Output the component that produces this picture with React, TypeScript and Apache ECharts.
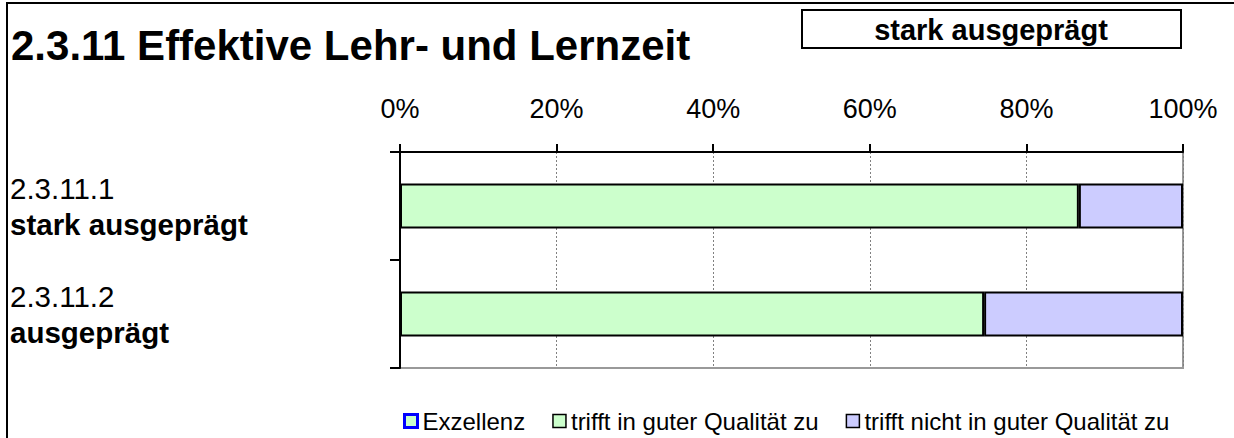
import React, { useEffect, useRef } from "react";
import * as echarts from "echarts";

const title = "2.3.11 Effektive Lehr- und Lernzeit";
const boxLabel = "stark ausgeprägt";
const categoryCodes = ["2.3.11.1", "2.3.11.2"];
const categoryNames = ["stark ausgeprägt", "ausgeprägt"];
const seriesNames = ["Exzellenz", "trifft in guter Qualität zu", "trifft nicht in guter Qualität zu"];
const exzellenz = [0, 0];
const trifftGut = [86.7, 74.6];
const trifftNicht = [13.3, 25.4];
const tickValues = [0, 20, 40, 60, 80, 100];

const FONT = "'Liberation Sans', Arial, sans-serif";

export default function App() {
  const ref = useRef<HTMLDivElement>(null);
  useEffect(() => {
    if (!ref.current) return;
    const chart = echarts.init(ref.current, null, { renderer: "svg" });
    const categories = categoryCodes.map((c, i) => `${c}\n${categoryNames[i]}`);
    chart.setOption({
      animation: false,
      backgroundColor: "#ffffff",
      textStyle: { fontFamily: FONT },
      graphic: [
        {
          type: "rect",
          shape: { x: 7, y: 3, width: 1300, height: 500 },
          style: { fill: "none", stroke: "#000", lineWidth: 2 },
          silent: true,
        },
        {
          type: "text",
          x: 11,
          y: 45,
          style: {
            text: title,
            font: `bold 42px ${FONT}`,
            fill: "#000",
            textVerticalAlign: "middle",
          },
        },
        {
          type: "rect",
          shape: { x: 802, y: 10, width: 379, height: 38 },
          style: { fill: "#fff", stroke: "#000", lineWidth: 2 },
        },
        {
          type: "text",
          x: 991,
          y: 30,
          style: {
            text: boxLabel,
            font: `bold 29px ${FONT}`,
            fill: "#000",
            textAlign: "center",
            textVerticalAlign: "middle",
          },
        },
      ],
      legend: {
        data: [
          { name: seriesNames[0], itemStyle: { color: "#CCFFCC", borderColor: "#0000FF", borderWidth: 3 } },
          { name: seriesNames[1], itemStyle: { borderWidth: 1.5 } },
          { name: seriesNames[2], itemStyle: { borderWidth: 1.5 } },
        ],
        left: 398,
        top: 404,
        icon: "rect",
        itemWidth: 13,
        itemHeight: 13,
        itemGap: 27,
        textStyle: { fontSize: 24, color: "#000", fontFamily: FONT },
      },
      grid: {
        left: 400,
        right: 51,
        top: 152,
        bottom: 70,
        show: true,
        borderColor: "#999",
        borderWidth: 2,
      },
      xAxis: {
        type: "value",
        position: "top",
        min: 0,
        max: 100,
        interval: 20,
        axisLine: { show: true, lineStyle: { color: "#000", width: 2 } },
        axisTick: { show: true, length: 8, lineStyle: { color: "#000", width: 2 } },
        axisLabel: {
          formatter: (v: number) => (tickValues.includes(v) ? `${v}%` : ""),
          fontSize: 27,
          color: "#000",
          margin: 30,
          fontFamily: FONT,
        },
        splitLine: { show: true, lineStyle: { color: "#808080", width: 1, type: [2, 2] } },
      },
      yAxis: {
        type: "category",
        inverse: true,
        data: categories,
        axisLine: { show: true, lineStyle: { color: "#000", width: 2 } },
        axisTick: { show: true, length: 10, lineStyle: { color: "#000", width: 2 } },
        axisLabel: {
          margin: 390,
          align: "left",
          fontFamily: FONT,
          formatter: (v: string) => {
            const [a, b] = v.split("\n");
            return `{a|${a}}\n{b|${b}}`;
          },
          rich: {
            a: { fontSize: 29.5, color: "#000", fontFamily: FONT, lineHeight: 36 },
            b: { fontSize: 29.5, fontWeight: "bold", color: "#000", fontFamily: FONT, lineHeight: 36 },
          },
        },
      },
      series: [
        {
          name: seriesNames[0],
          type: "bar",
          stack: "s",
          barWidth: 45,
          data: exzellenz,
          itemStyle: { color: "#CCFFCC", borderColor: "#0000FF", borderWidth: 0 },
        },
        {
          name: seriesNames[1],
          type: "bar",
          stack: "s",
          barWidth: 45,
          data: trifftGut,
          itemStyle: { color: "#CCFFCC", borderColor: "#000", borderWidth: 2 },
        },
        {
          name: seriesNames[2],
          type: "bar",
          stack: "s",
          barWidth: 45,
          data: trifftNicht,
          itemStyle: { color: "#CCCCFF", borderColor: "#000", borderWidth: 2 },
        },
      ],
    });
    return () => chart.dispose();
  }, []);
  return (
    <div
      ref={ref}
      style={{ position: "absolute", left: 0, top: 0, width: 1234, height: 438 }}
    />
  );
}
